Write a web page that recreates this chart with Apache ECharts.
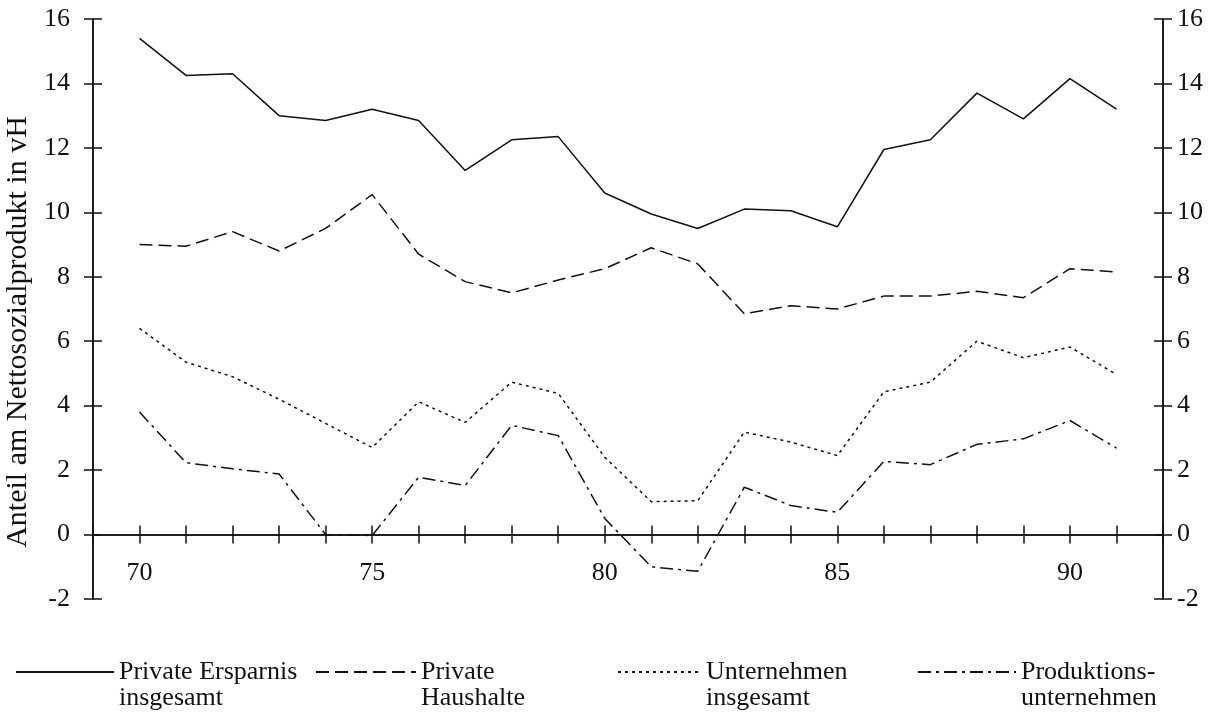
<!DOCTYPE html>
<html><head><meta charset="utf-8">
<script src="https://cdn.jsdelivr.net/npm/echarts@6/dist/echarts.min.js"></script>
<style>html,body{margin:0;padding:0;background:#fff}#c{width:1221px;height:718px}</style>
</head><body><div id="c"></div>
<script>
const years = [70,71,72,73,74,75,76,77,78,79,80,81,82,83,84,85,86,87,88,89,90,91];
const privateErsparnis = [15.4,14.25,14.3,13.0,12.85,13.2,12.85,11.3,12.25,12.35,10.6,9.95,9.5,10.1,10.05,9.55,11.95,12.25,13.7,12.9,14.15,13.2];
const privateHaushalte = [9.0,8.95,9.4,8.8,9.5,10.55,8.7,7.85,7.5,7.9,8.25,8.9,8.4,6.85,7.1,7.0,7.4,7.4,7.55,7.35,8.25,8.15];
const unternehmen = [6.4,5.35,4.9,4.2,3.45,2.7,4.12,3.48,4.73,4.38,2.4,1.02,1.05,3.18,2.87,2.45,4.43,4.73,6.0,5.49,5.82,4.97];
const produktion = [3.8,2.23,2.04,1.88,0.0,-0.03,1.78,1.52,3.39,3.07,0.5,-1.0,-1.14,1.47,0.9,0.69,2.27,2.17,2.8,2.97,3.54,2.68];
const yTicks = [-2,0,2,4,6,8,10,12,14,16];
const xLabelYears = [70,75,80,85,90];
const names = ['Private Ersparnis\ninsgesamt','Private\nHaushalte','Unternehmen\ninsgesamt','Produktions-\nunternehmen'];

const FONT = 'Liberation Serif';
const INK = '#111';
const axisLineStyle = {color: INK, width: 1.5};
const pair = vals => years.map((y, i) => [y, vals[i]]);

function xAx(inside, showLabel) {
  return {
    type: 'value', min: 69, max: 92, interval: 1, position: 'bottom',
    axisLine: {show: true, onZero: true, lineStyle: axisLineStyle},
    axisTick: {show: true, inside: inside, length: 9, lineStyle: axisLineStyle},
    axisLabel: {show: showLabel, margin: -39, fontFamily: FONT, fontSize: 26, color: INK,
      formatter: v => xLabelYears.indexOf(v) >= 0 ? String(v) : ''},
    splitLine: {show: false}
  };
}
function yAx(pos, inside, showLabel, margin, withName) {
  const a = {
    type: 'value', min: yTicks[0], max: yTicks[yTicks.length-1], interval: 2, position: pos,
    axisLine: {show: true, onZero: false, lineStyle: axisLineStyle},
    axisTick: {show: true, inside: inside, length: 9, lineStyle: axisLineStyle},
    axisLabel: {show: showLabel, margin: margin, fontFamily: FONT, fontSize: 26, color: INK},
    splitLine: {show: false}
  };
  if (withName) {
    a.name = 'Anteil am Nettosozialprodukt in vH';
    a.nameLocation = 'middle';
    a.nameGap = 60;
    a.nameRotate = 90;
    a.nameTextStyle = {fontFamily: FONT, fontSize: 30, color: INK, padding: [0, 46, 0, 0]};
  }
  return a;
}
const dashes = ['solid', [13, 6], [3, 4], [13, 5, 3, 5]];
const vals = [privateErsparnis, privateHaushalte, unternehmen, produktion];
const series = names.map((n, i) => ({
  name: n, type: 'line', xAxisIndex: 0, yAxisIndex: 0, data: pair(vals[i]),
  symbol: 'none', showSymbol: false, silent: true,
  lineStyle: {color: INK, width: 1.5, type: dashes[i]},
  itemStyle: {color: INK}
}));
const legLeft = [15, 315, 617, 917];
const legWidth = [98, 100, 83, 98];
const legend = names.map((n, i) => ({
  data: [n], left: legLeft[i], top: 633, padding: 0, itemWidth: legWidth[i], itemHeight: 14,
  selectedMode: false, itemGap: 0,
  itemStyle: {color: 'rgba(0,0,0,0)', borderColor: 'rgba(0,0,0,0)', borderWidth: 0, opacity: 0},
  formatter: s => '\n' + s,
  textStyle: {fontFamily: FONT, fontSize: 26, color: INK, lineHeight: 26}
}));

const chart = echarts.init(document.getElementById('c'), null, {renderer: 'canvas'});
chart.setOption({
  animation: false,
  backgroundColor: '#fff',
  grid: {left: 93, right: 58, top: 19, bottom: 119, containLabel: false, outerBoundsMode: 'none'},
  xAxis: [xAx(false, true), xAx(true, false)],
  yAxis: [yAx('left', false, true, 23, true), yAx('right', false, true, 14, false), yAx('left', true, false, 0, false), yAx('right', true, false, 0, false)],
  legend: legend,
  series: series
});
</script></body></html>
